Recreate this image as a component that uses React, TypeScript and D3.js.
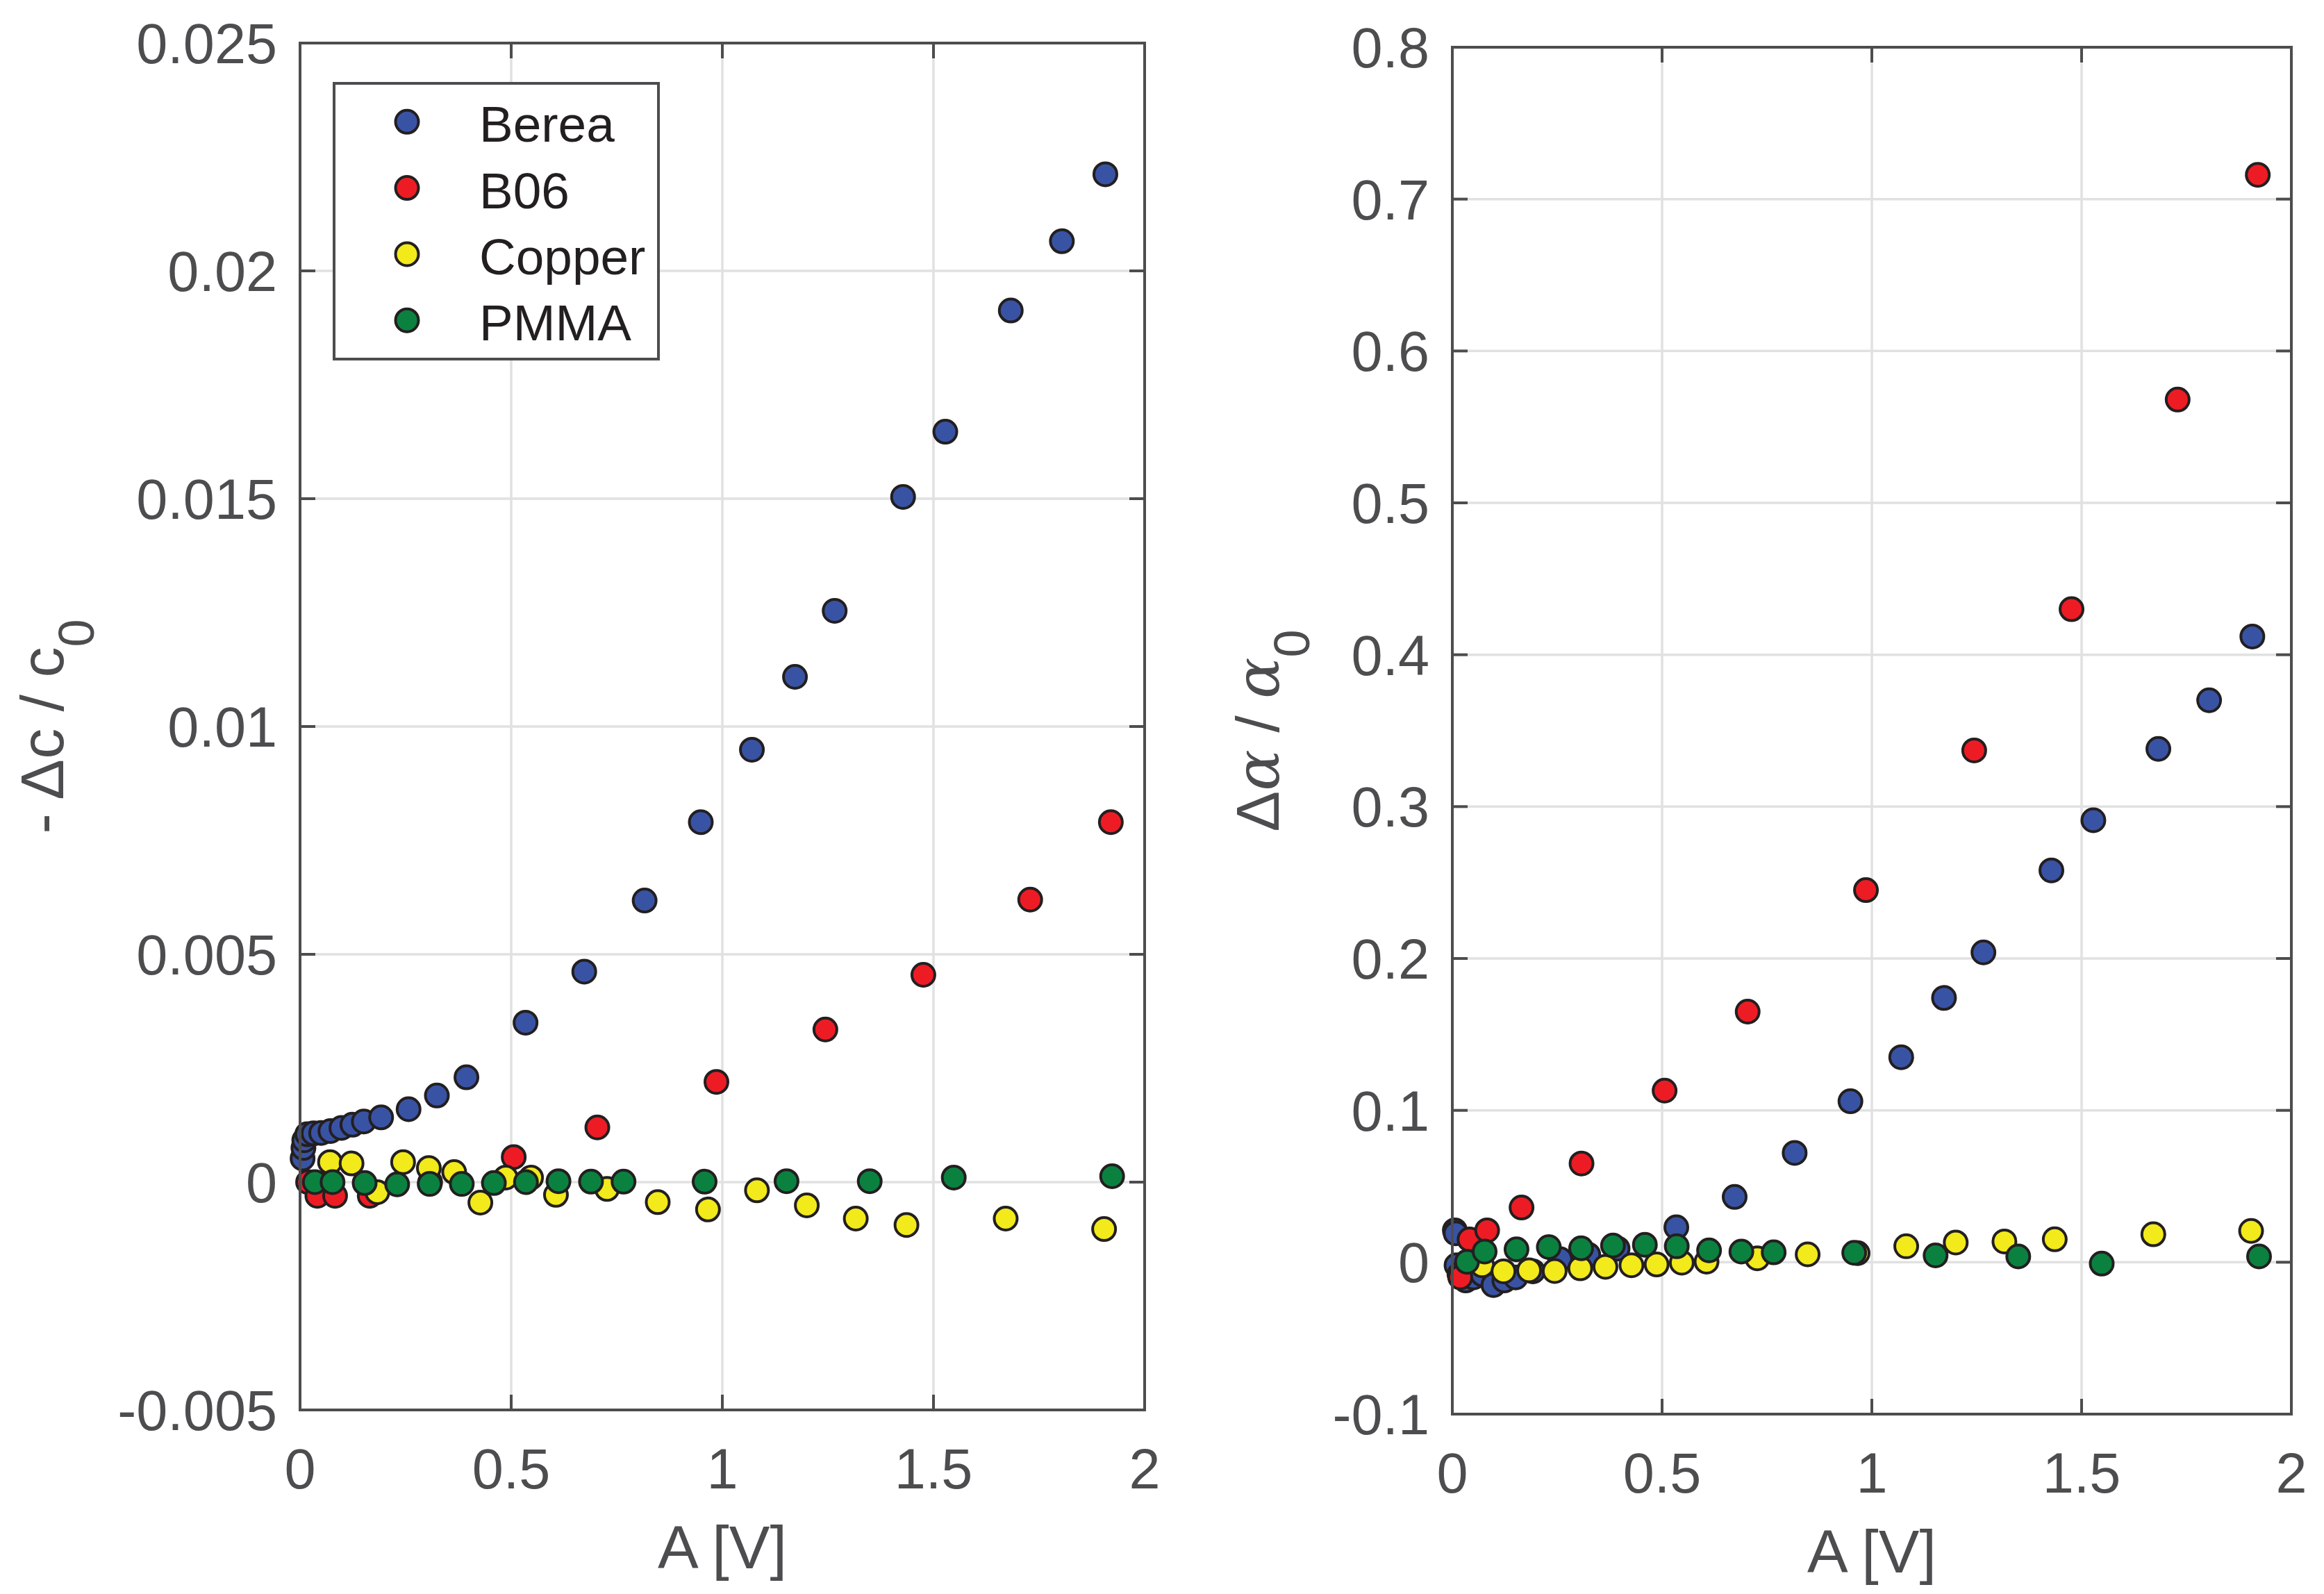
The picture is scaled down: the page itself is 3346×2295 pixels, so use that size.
import * as d3 from 'd3'

const W = 3346
const H = 2295

// amplitude A [V] and the two normalised changes for each sample
const bereaA = [0.006, 0.008, 0.010, 0.017, 0.032, 0.050, 0.072, 0.098, 0.124, 0.151, 0.192, 0.257, 0.324, 0.394, 0.534, 0.673, 0.816, 0.949, 1.070, 1.172, 1.266, 1.428, 1.528, 1.683, 1.804, 1.907]
const bereaDc = [0.00052, 0.00075, 0.00092, 0.00105, 0.00107, 0.00108, 0.00112, 0.00119, 0.00126, 0.00133, 0.00142, 0.0016, 0.0019, 0.0023, 0.0035, 0.00462, 0.00618, 0.0079, 0.00949, 0.01109, 0.01254, 0.01504, 0.01647, 0.01913, 0.02065, 0.02212]
const bereaDa = [0.021, 0.019, -0.002, -0.008, -0.012, -0.010, -0.008, -0.015, -0.012, -0.010, -0.006, 0.002, 0.005, 0.009, 0.023, 0.043, 0.072, 0.106, 0.135, 0.174, 0.204, 0.258, 0.291, 0.338, 0.370, 0.412]

const b06A = [0.019, 0.041, 0.083, 0.165, 0.308, 0.506, 0.704, 0.986, 1.244, 1.476, 1.729, 1.920]
const b06Dc = [0.0, -0.0003, -0.0003, -0.0003, 0.0, 0.00055, 0.0012, 0.0022, 0.00335, 0.00455, 0.0062, 0.0079]
const b06Da = [-0.010, 0.015, 0.021, 0.036, 0.065, 0.113, 0.165, 0.245, 0.337, 0.430, 0.568, 0.716]

const copperA = [0.071, 0.122, 0.183, 0.244, 0.305, 0.365, 0.427, 0.487, 0.547, 0.606, 0.727, 0.847, 0.966, 1.082, 1.200, 1.316, 1.436, 1.671, 1.904]
const copperDc = [0.00044, 0.00041, -0.00022, 0.00044, 0.00031, 0.00022, -0.00045, 0.0001, 0.0001, -0.00028, -0.00015, -0.00044, -0.0006, -0.00018, -0.00051, -0.0008, -0.00094, -0.0008, -0.00103]
const copperDa = [-0.002, -0.006, -0.0053, -0.0058, -0.004, -0.003, -0.002, -0.0015, -0.0003, 0.0004, 0.0026, 0.0052, 0.006, 0.0105, 0.013, 0.0137, 0.0151, 0.0184, 0.0206]

const pmmaA = [0.035, 0.077, 0.153, 0.230, 0.307, 0.383, 0.459, 0.535, 0.612, 0.689, 0.766, 0.958, 1.152, 1.349, 1.548, 1.923]
const pmmaDc = [0, 0, -0.00002, -0.00005, -0.00004, -0.00004, -0.00002, 0, 0.00002, 0.00001, 0.00001, 0.00001, 0.00002, 0.00002, 0.0001, 0.00013]
const pmmaDa = [0.0003, 0.007, 0.0085, 0.010, 0.0092, 0.011, 0.0115, 0.0105, 0.0078, 0.007, 0.0065, 0.0062, 0.0045, 0.0038, -0.0009, 0.0038]

const materials = ['Berea', 'B06', 'Copper', 'PMMA']
const colors = ['#3953a4', '#ed1c24', '#f2ea1a', '#0b8140']

const xTicks = [0, 0.5, 1, 1.5, 2]
const xTickLabels = ['0', '0.5', '1', '1.5', '2']
const dcTicks = [-0.005, 0, 0.005, 0.01, 0.015, 0.02, 0.025]
const dcTickLabels = ['-0.005', '0', '0.005', '0.01', '0.015', '0.02', '0.025']
const daTicks = [-0.1, 0, 0.1, 0.2, 0.3, 0.4, 0.5, 0.6, 0.7, 0.8]
const daTickLabels = ['-0.1', '0', '0.1', '0.2', '0.3', '0.4', '0.5', '0.6', '0.7', '0.8']

const AXIS = '#4d4d4f'
const INK = '#231f20'
const GRID = '#e1e1e1'
const SANS = '"Liberation Sans", Arial, Helvetica, sans-serif'
const TICK_FS = 81
const LABEL_FS = 88

type Series = { x: number[]; y: number[]; color: string }

function Panel(props: {
  left: number; top: number; width: number; height: number
  yDomain: [number, number]; yTicks: number[]; yTickLabels: string[]
  series: Series[]; ylabel: React.ReactNode; ylabelX: number; legend?: boolean
}) {
  const { left, top, width, height, yDomain, yTicks, yTickLabels, series, ylabel, ylabelX, legend } = props
  const x = d3.scaleLinear().domain([0, 2]).range([left, left + width])
  const y = d3.scaleLinear().domain(yDomain).range([top + height, top])
  const tl = 22
  const r = 16.5

  return (
    <g>
      {/* grid */}
      {xTicks.map(t => (
        <line key={'gx' + t} x1={x(t)} x2={x(t)} y1={top} y2={top + height} stroke={GRID} strokeWidth={3.5} />
      ))}
      {yTicks.map(t => (
        <line key={'gy' + t} x1={left} x2={left + width} y1={y(t)} y2={y(t)} stroke={GRID} strokeWidth={3.5} />
      ))}
      {/* ticks, all four sides */}
      {xTicks.map(t => (
        <g key={'tx' + t}>
          <line x1={x(t)} x2={x(t)} y1={top + height} y2={top + height - tl} stroke={AXIS} strokeWidth={4} />
          <line x1={x(t)} x2={x(t)} y1={top} y2={top + tl} stroke={AXIS} strokeWidth={4} />
        </g>
      ))}
      {yTicks.map(t => (
        <g key={'ty' + t}>
          <line x1={left} x2={left + tl} y1={y(t)} y2={y(t)} stroke={AXIS} strokeWidth={4} />
          <line x1={left + width} x2={left + width - tl} y1={y(t)} y2={y(t)} stroke={AXIS} strokeWidth={4} />
        </g>
      ))}
      {/* points */}
      {series.map((s, si) => (
        <g key={'s' + si}>
          {s.x.map((v, i) => (
            <circle key={i} cx={x(v)} cy={y(s.y[i])} r={r} fill={s.color} stroke={INK} strokeWidth={4} />
          ))}
        </g>
      ))}
      <rect x={left} y={top} width={width} height={height} fill="none" stroke={AXIS} strokeWidth={4} />
      {/* tick labels */}
      {xTicks.map((t, i) => (
        <text key={'lx' + t} x={x(t)} y={top + height + 113} textAnchor="middle" fontSize={TICK_FS} fill={AXIS} fontFamily={SANS}>
          {xTickLabels[i]}
        </text>
      ))}
      {yTicks.map((t, i) => (
        <text key={'ly' + t} x={left - 33} y={y(t) + 29} textAnchor="end" fontSize={TICK_FS} fill={AXIS} fontFamily={SANS}>
          {yTickLabels[i]}
        </text>
      ))}
      {/* axis labels */}
      <text x={left + width / 2} y={top + height + 228} textAnchor="middle" fontSize={LABEL_FS} fill={AXIS} fontFamily={SANS}>
        A [V]
      </text>
      <text transform={`translate(${ylabelX},${top + height / 2}) rotate(-90)`} textAnchor="middle" fontSize={LABEL_FS} fill={AXIS} fontFamily={SANS}>
        {ylabel}
      </text>
      {legend && (
        <g>
          <rect x={481} y={120} width={467} height={397} fill="#fff" stroke={AXIS} strokeWidth={4} />
          {materials.map((m, i) => (
            <g key={m}>
              <circle cx={586} cy={175.3 + i * 95.3} r={r} fill={colors[i]} stroke={INK} strokeWidth={4} />
              <text x={690} y={175.3 + i * 95.3 + 29} fontSize={73} fill={INK} fontFamily={SANS}>{m}</text>
            </g>
          ))}
        </g>
      )}
    </g>
  )
}

export default function App() {
  const leftSeries: Series[] = [
    { x: bereaA, y: bereaDc, color: colors[0] },
    { x: b06A, y: b06Dc, color: colors[1] },
    { x: copperA, y: copperDc, color: colors[2] },
    { x: pmmaA, y: pmmaDc, color: colors[3] },
  ]
  const rightSeries: Series[] = [
    { x: bereaA, y: bereaDa, color: colors[0] },
    { x: b06A, y: b06Da, color: colors[1] },
    { x: copperA, y: copperDa, color: colors[2] },
    { x: pmmaA, y: pmmaDa, color: colors[3] },
  ]

  return (
    <svg width={W} height={H} viewBox={`0 0 ${W} ${H}`} style={{ position: 'absolute', left: 0, top: 0, background: '#fff' }}>
      <rect width={W} height={H} fill="#fff" />
      <Panel
        left={432} top={62} width={1216} height={1968}
        yDomain={[-0.005, 0.025]} yTicks={dcTicks} yTickLabels={dcTickLabels}
        series={leftSeries} ylabelX={91} legend
        ylabel={<>
          <tspan>- Δc / c</tspan>
          <tspan fontSize={72} dy={44}>0</tspan>
        </>}
      />
      <Panel
        left={2091} top={68} width={1208} height={1968}
        yDomain={[-0.1, 0.8]} yTicks={daTicks} yTickLabels={daTickLabels}
        series={rightSeries} ylabelX={1841}
        ylabel={<>
          <tspan>Δ</tspan>
          <tspan fontFamily='"DejaVu Serif", "Liberation Serif", serif' fontStyle="italic">α</tspan>
          <tspan> / </tspan>
          <tspan fontFamily='"DejaVu Serif", "Liberation Serif", serif' fontStyle="italic">α</tspan>
          <tspan fontSize={72} dy={44}>0</tspan>
        </>}
      />
    </svg>
  )
}
